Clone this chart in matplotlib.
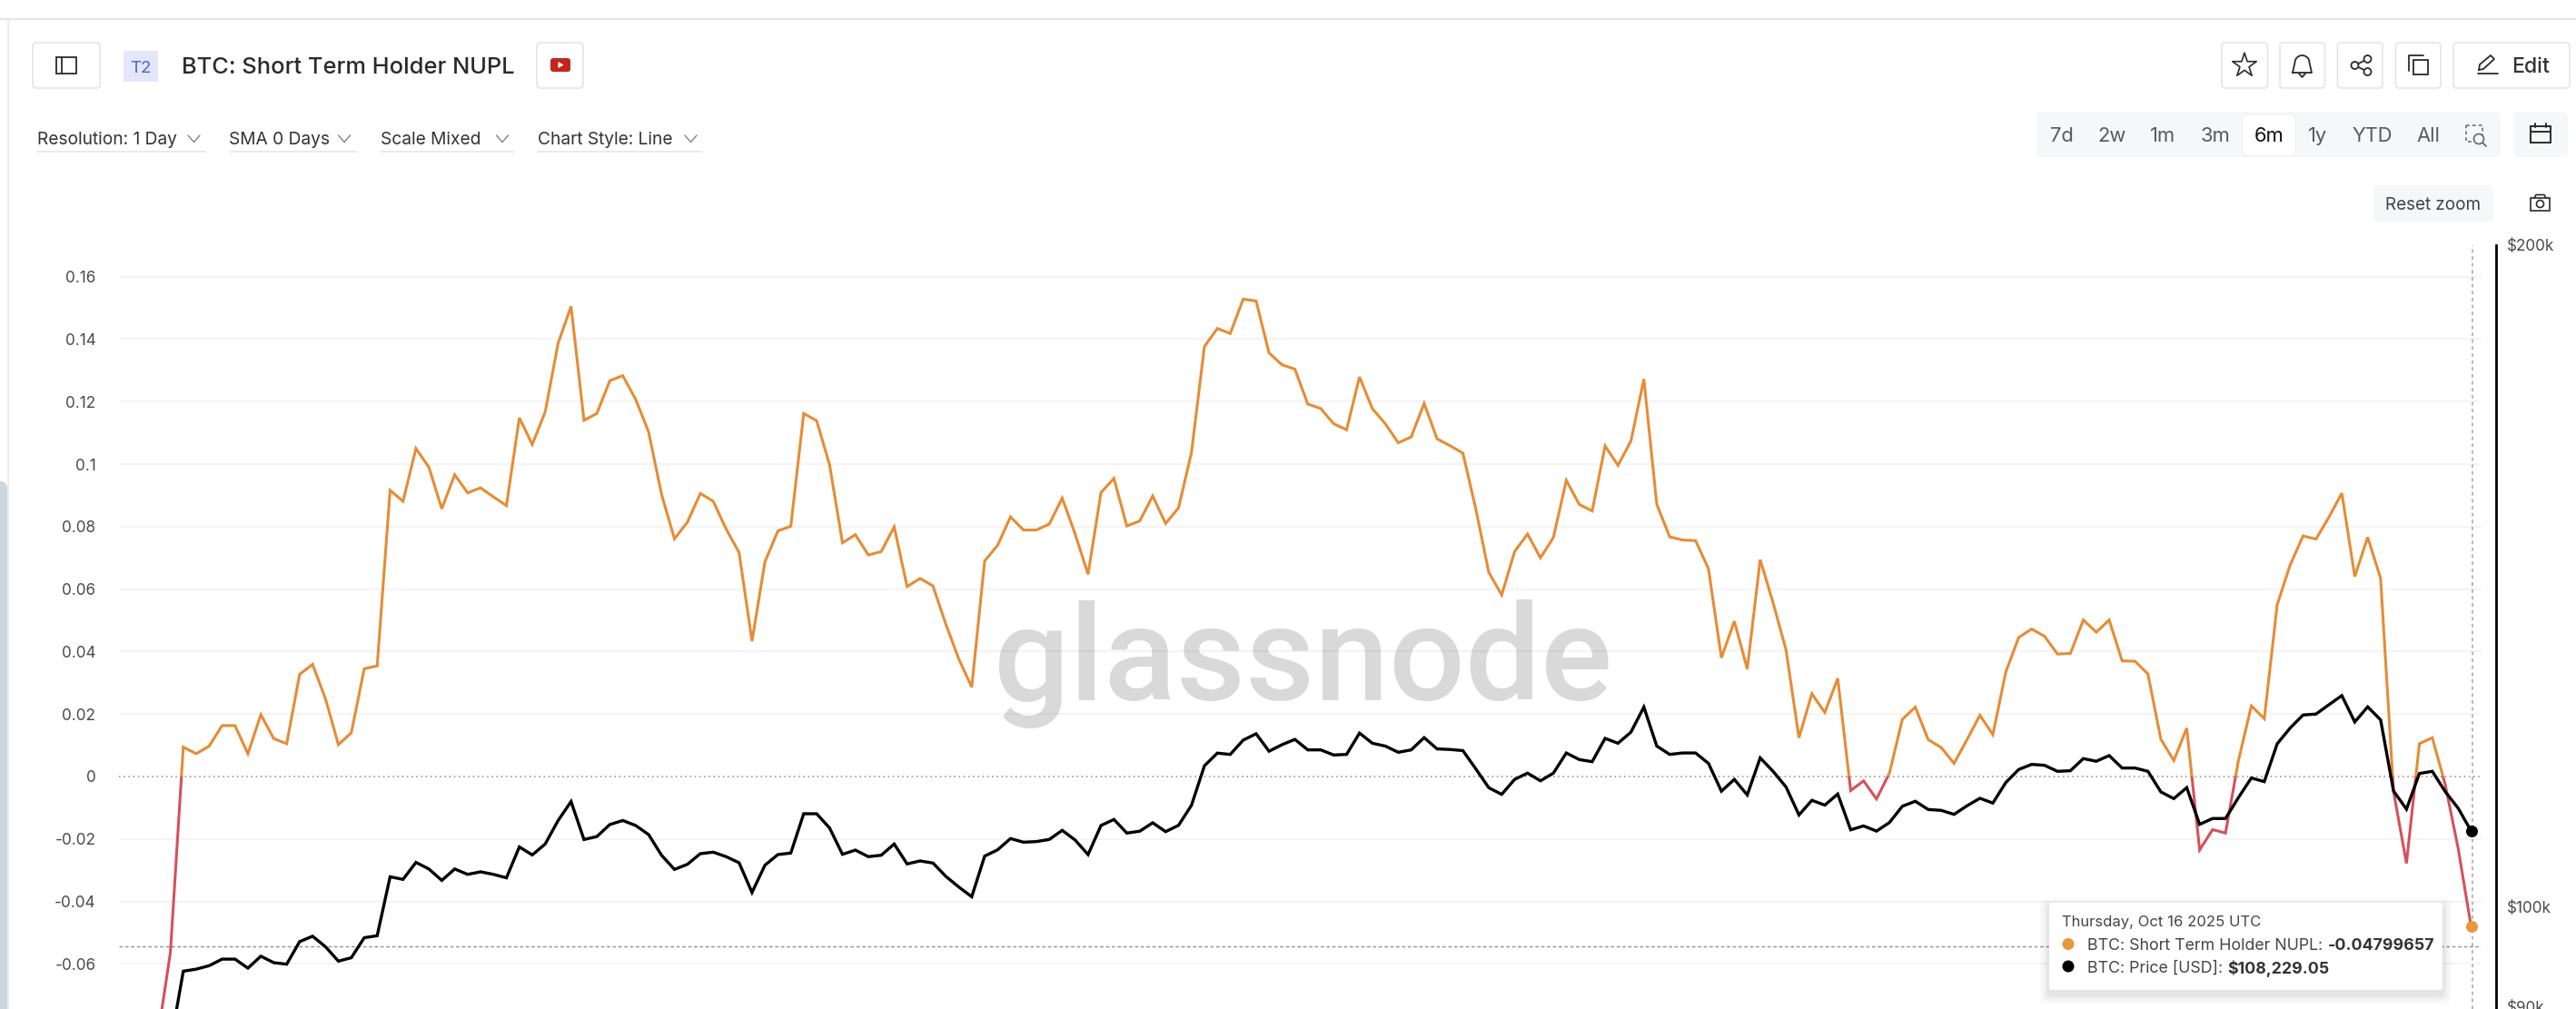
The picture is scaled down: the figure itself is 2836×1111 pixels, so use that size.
import numpy as np
import pandas as pd
import matplotlib
matplotlib.use("Agg")
import matplotlib.pyplot as plt
import matplotlib.dates as mdates
from matplotlib.patches import FancyBboxPatch, Rectangle, Circle, Polygon
from matplotlib.lines import Line2D

plt.rcParams['font.family'] = ['Inter', 'DejaVu Sans']

W, H = 2836, 1111

nupl = [
 -0.084, -0.0564,
 .0094, .0073, .0097, .0163, .0163, .0073, .0198, .0121, .0105, .0327,
 .0359, .0249, .0102, .0140, .0345, .0354, .0916, .0881, .1050, .0990,
 .0857, .0966, .0908, .0924, .0895, .0867, .1148, .1063, .1167, .1387,
 .1505, .1140, .1162, .1267, .1283, .1207, .1103, .0903, .0761, .0814,
 .0906, .0881, .0792, .0717, .0433, .0687, .0786, .0801, .1162, .1139,
 .0998, .0748, .0774, .0709, .0720, .0799, .0608, .0634, .0610, .0487,
 .0376, .0286, .0690, .0740, .0831, .0789, .0789, .0808, .0891, .0776,
 .0647, .0909, .0954, .0802, .0818, .0898, .0810, .0860, .1037, .1376,
 .1434, .1418, .1528, .1522, .1356, .1318, .1304, .1192, .1178, .1129,
 .1110, .1279, .1177, .1129, .1068, .1087, .1194, .1081, .1059, .1035,
 .0856, .0654, .0581, .0720, .0776, .0700, .0765, .0948, .0871, .0850,
 .1058, .0996, .1074, .1272, .0871, .0767, .0757, .0755, .0665, .0380,
 .0497, .0344, .0694, .0556, .0405, .0124, .0265, .0205, .0314, -.0045,
 -.0014, -.0072, .0011, .0183, .0222, .0118, .0093, .0042, .0118, .0196,
 .0134, .0334, .0445, .0472, .0449, .0392, .0394, .0501, .0462, .0501,
 .0370, .0369, .0328, .0119, .0051, .0155, -.0235, -.0170, -.0181, .0051,
 .0226, .0185, .0550, .0677, .0770, .0760, .0830, .0907, .0640, .0766,
 .0634, -.0048, -.0278, .0105, .0124, -.0026, -.0230, -.04799657,
]

price_k = [
 84.5, 86.5,
 93.43, 93.63, 93.97, 94.62, 94.62, 93.73, 94.91, 94.27, 94.12, 96.37,
 96.92, 95.86, 94.42, 94.76, 96.77, 96.97, 103.15, 102.87, 104.72, 104.0,
 102.76, 104.0, 103.41, 103.69, 103.41, 103.04, 106.43, 105.54, 106.76, 109.42,
 111.62, 107.26, 107.6, 108.96, 109.42, 108.85, 107.82, 105.51, 103.95, 104.51,
 105.68, 105.85, 105.35, 104.68, 101.47, 104.41, 105.58, 105.75, 110.2, 110.2,
 108.57, 105.61, 106.08, 105.35, 105.51, 106.76, 104.55, 104.88, 104.65, 103.19,
 102.05, 101.02, 105.41, 106.11, 107.37, 106.96, 107.03, 107.27, 108.3, 107.2,
 105.58, 108.85, 109.54, 107.99, 108.2, 109.16, 108.15, 108.87, 111.18, 115.87,
 117.43, 117.27, 119.04, 119.84, 117.66, 118.47, 119.13, 117.83, 117.83, 117.2,
 117.27, 119.92, 118.65, 118.3, 117.53, 117.83, 119.35, 117.95, 117.88, 117.74,
 115.5, 113.25, 112.46, 114.24, 114.99, 114.07, 114.99, 117.45, 116.64, 116.38,
 119.26, 118.65, 120.04, 123.24, 118.3, 117.27, 117.45, 117.45, 116.17, 112.84,
 114.24, 112.39, 116.85, 115.2, 113.33, 110.06, 111.76, 111.2, 112.5, 108.36,
 108.8, 108.21, 109.19, 111.07, 111.65, 110.69, 110.59, 110.13, 111.12, 112.0,
 111.44, 113.86, 115.43, 116.05, 115.94, 115.21, 115.28, 116.76, 116.43, 117.13,
 115.61, 115.61, 115.21, 112.75, 111.96, 113.26, 108.98, 109.65, 109.65, 112.08,
 114.41, 113.97, 118.59, 120.56, 122.22, 122.34, 123.54, 124.73, 121.33, 123.27,
 121.6, 112.86, 110.73, 114.95, 115.21, 112.78, 110.84, 108.22905,
]

left_ticks = [0.16, 0.14, 0.12, 0.10, 0.08, 0.06, 0.04, 0.02, 0, -0.02, -0.04, -0.06]
left_labels = ['0.16', '0.14', '0.12', '0.1', '0.08', '0.06', '0.04', '0.02', '0',
               '-0.02', '-0.04', '-0.06']
right_ticks = [90000, 100000, 200000]
right_labels = ['$90k', '$100k', '$200k']
hover_nupl = -0.0544

dates = pd.date_range(end='2025-10-16', periods=len(nupl), freq='D')
price = np.array(price_k) * 1000
nupl = np.array(nupl)
xd = mdates.date2num(dates)

ORANGE, RED = '#e68c35', '#d6505a'
GRID = '#f3f3f4'
TXT = '#4a4a4a'

fig = plt.figure(figsize=(W / 100, H / 100), dpi=100, facecolor='white')
L, R, T, B = 131, 2732, 270, 1111
ax = fig.add_axes([L / W, 1 - B / H, (R - L) / W, (B - T) / H])
ax.set_facecolor('none')
# x position: last date sits at pixel 2720.5, one day = 14.23 px
ax.set_xlim(xd[-1] - (2720.5 - L) / 14.23, xd[-1] + (R - 2720.5) / 14.23)
ax.set_ylim(-0.07442, 0.17006)
for s in ax.spines.values():
    s.set_visible(False)
ax.xaxis.set_visible(False)
ax.set_yticks(left_ticks, left_labels)
ax.tick_params(axis='y', length=0, pad=18.5, labelsize=12.3, labelcolor=TXT)
for v in left_ticks:
    if v == 0:
        ax.axhline(v, color='#8a8a8a', lw=1.1, ls=(0, (1, 2.4)), zorder=2)
    else:
        ax.axhline(v, color=GRID, lw=1.3, zorder=1)

ax.text(1434 / W, 1 - 770.5 / H, 'glassnode', transform=fig.transFigure, ha='center', va='baseline',
        fontsize=106, family='Roboto', weight=500, color='black', alpha=0.15, zorder=1.5)

ax.axhline(hover_nupl, color='#8f8f8f', lw=1.0, ls=(0, (2.6, 2)), zorder=2)
ax.axvline(xd[-1] + 0.1, color='#a5a5a5', lw=1.1, ls=(0, (2.6, 2.4)), zorder=2)

l1, = ax.plot(xd, nupl, color=ORANGE, lw=2.2, solid_joinstyle='miter', zorder=3)
l2, = ax.plot(xd, nupl, color=RED, lw=2.2, solid_joinstyle='miter', zorder=3)
xa, xb = ax.get_xlim()
l1.set_clip_path(Rectangle((xa, 0), xb - xa, 1, transform=ax.transData))
l2.set_clip_path(Rectangle((xa, -1), xb - xa, 1, transform=ax.transData))
ax.scatter(xd[-1], nupl[-1], s=88, color='#e8973c', zorder=5, clip_on=False, linewidths=0)

ax2 = ax.twinx()
ax2.set_facecolor('none')
ax2.set_yscale('log')
ax2.set_ylim(89800, 200000)
ax2.set_yticks(right_ticks, right_labels)
ax2.minorticks_off()
ax2.yaxis.set_minor_locator(matplotlib.ticker.NullLocator())
ax2.tick_params(axis='y', length=0, pad=8.6, labelsize=12.3, labelcolor=TXT)
for k, s in ax2.spines.items():
    s.set_visible(k == 'right')
ax2.spines['right'].set_position(('outward', 11.5))
ax2.spines['right'].set_linewidth(2.0)
ax2.spines['right'].set_color('black')
ax2.plot(xd, price, color='black', lw=2.4, solid_joinstyle='miter', zorder=4)
ax2.scatter(xd[-1], price[-1], s=88, color='black', zorder=5, clip_on=False, linewidths=0)

# ---- page chrome, pixel coordinates
ov = fig.add_axes([0, 0, 1, 1], zorder=10)
ov.set_xlim(0, W)
ov.set_ylim(H, 0)
ov.axis('off')


def rbox(x0, y0, x1, y1, r=4, fc='white', ec='#e3e3e5', lw=1.1, z=2, **kw):
    p = FancyBboxPatch((x0 + r, y0 + r), x1 - x0 - 2 * r, y1 - y0 - 2 * r,
                       boxstyle=f'round,pad={r},rounding_size={r}', fc=fc, ec=ec, lw=lw, zorder=z, **kw)
    ov.add_patch(p)
    return p


def seg(xs, ys, c='#2b2b2b', lw=1.3, z=4, **kw):
    ov.add_line(Line2D(xs, ys, color=c, lw=lw, zorder=z, solid_capstyle='round', **kw))


def txt(x, y, s, size=12, c='#333333', ha='left', weight='normal', z=5):
    return ov.text(x, y, s, fontsize=size, color=c, ha=ha, va='center_baseline', weight=weight, zorder=z)


seg([0, W], [20.5, 20.5], c='#e6e6e8', lw=1.6)
seg([8.5, 8.5], [21, H], c='#e6e6e8', lw=1.1)
rbox(-10, 530, 8, H + 30, r=8, fc='#cbd6de', ec='none', z=1)

# header left
rbox(36, 47, 110, 97)
ov.add_patch(Rectangle((61.5, 62.5), 22, 18.5, fc='none', ec='#2b2b2b', lw=1.3, zorder=4))
seg([68, 68], [62.5, 81])
ov.add_patch(Rectangle((135.5, 55.5), 38.5, 34.5, fc='#e3e7fb', ec='none', zorder=3))
txt(155, 73, 'T2', 13.5, '#4a62d0', ha='center')
txt(200, 72, 'BTC: Short Term Holder NUPL', 18.3, '#2a2a2a', weight=500)
rbox(591, 47, 642, 97)
rbox(606, 64, 628, 79, r=3, fc='#c4261d', ec='none', z=4)
ov.add_patch(Polygon([[614.5, 68], [614.5, 75], [620.5, 71.5]], fc='white', ec='none', zorder=5))

# dropdowns
drops = [('Resolution: 1 Day', 41, 213.5, 226), ('SMA 0 Days', 252.5, 379, 393),
         ('Scale Mixed', 419, 553, 566), ('Chart Style: Line', 592, 760.5, 773)]
for s, x0, xc, x1 in drops:
    txt(x0, 152, s, 13.8, '#333333')
    seg([xc - 6.5, xc, xc + 6.5], [149, 156.5, 149], c='#777777', lw=0.9)
    seg([x0, x1], [167, 167], c='#e3e3e5', lw=1.1)

# header right
for x0, x1 in [(2446, 2496.5), (2510, 2559.5), (2573.5, 2623), (2637.5, 2687), (2701, 2829)]:
    rbox(x0, 47, x1, 97)
ov.scatter([2471], [72], marker='*', s=400, fc='none', ec='#2b2b2b', lw=1.2, zorder=4)
# bell
bt = np.linspace(np.pi, 0, 20)
bx = list(2534.5 + 8 * np.cos(bt))
by = list(69 + 8 * np.sin(-bt) * 1.0)
seg([2524] + bx + [2545, 2524], [80] + by + [80, 80])
seg([2531, 2534.5, 2538], [81, 85, 81])
# share
for cx, cy in [(2606.5, 65), (2606.5, 79), (2592.5, 72)]:
    ov.add_patch(Circle((cx, cy), 4, fc='white', ec='#2b2b2b', lw=1.3, zorder=5))
seg([2592.5, 2606.5], [72, 65])
seg([2592.5, 2606.5], [72, 79])
# copy
ov.add_patch(Rectangle((2657, 66), 16, 16, fc='white', ec='#2b2b2b', lw=1.3, zorder=5))
seg([2652, 2652, 2668], [78, 61, 61])
# edit
seg([2728, 2750], [81, 81])
seg([2729, 2730, 2742, 2746, 2734, 2729], [77, 71, 61, 65, 76, 77])
txt(2765.5, 72, 'Edit', 16.6, '#333333', weight=500)

# range selector
rbox(2242, 123, 2753, 173, r=6, fc='#f6f7f8', ec='none')
rbox(2469, 126, 2527, 171, r=5, fc='white', ec='#ececec', lw=0.6, z=3)
ranges = [('7d', 2270), ('2w', 2325), ('1m', 2381), ('3m', 2439), ('6m', 2498),
          ('1y', 2551.5), ('YTD', 2611.5), ('All', 2673.5)]
for s, xc in ranges:
    txt(xc, 148, s, 15.8, '#111111' if s == '6m' else '#5a5a5a', ha='center')
ov.add_patch(Rectangle((2714.5, 138), 18, 18, fc='none', ec='#666666', lw=1.1, ls=(0, (2.5, 2)), zorder=4))
ov.add_patch(Circle((2729, 153), 5.5, fc='#f6f7f8', ec='#666666', lw=1.2, zorder=5))
seg([2733, 2737], [157, 161], c='#666666')
rbox(2767, 123, 2827, 173, r=6, fc='#f6f7f8', ec='none')
ov.add_patch(Rectangle((2786, 139), 22, 18, fc='none', ec='#2b2b2b', lw=1.4, zorder=4))
seg([2786, 2808], [144.5, 144.5], lw=1.4)
seg([2791, 2791], [136, 140], lw=1.4)
seg([2803, 2803], [136, 140], lw=1.4)

# reset zoom and camera
rbox(2613, 204, 2745, 244, r=5, fc='#f6f7f8', ec='none')
txt(2679, 224, 'Reset zoom', 13.6, '#444444', ha='center')
ov.add_patch(Rectangle((2786, 218), 21, 14, fc='none', ec='#2b2b2b', lw=1.2, zorder=4))
seg([2790, 2792, 2801, 2803], [218, 214.5, 214.5, 218], lw=1.2)
ov.add_patch(Circle((2796.5, 224.5), 4, fc='none', ec='#2b2b2b', lw=1.2, zorder=4))

# tooltip
for i, a in enumerate([0.018, 0.022, 0.028, 0.035]):
    g = 10 - 2.5 * i
    rbox(2256 - g, 994 - g + 5, 2689 + g, 1090 + g + 5, r=6, fc='black', ec='none', alpha=a, z=2)
rbox(2256, 994, 2689, 1090, r=3, fc='white', ec='none', z=3)
txt(2270, 1014, 'Thursday, Oct 16 2025 UTC', 12.0, '#444444')
ov.add_patch(Circle((2277, 1039.5), 6.5, fc='#e8973c', ec='none', zorder=5))
ov.add_patch(Circle((2277, 1064), 6.5, fc='black', ec='none', zorder=5))
txt(2297.5, 1039.5, 'BTC: Short Term Holder NUPL:', 12.8, '#444444')
txt(2563, 1039.5, '-0.04799657', 12.8, '#333333', weight='bold')
txt(2297.5, 1064, 'BTC: Price [USD]:', 12.8, '#444444')
txt(2452, 1064, '$108,229.05', 12.8, '#333333', weight='bold')

fig.savefig('out.png', dpi=100, facecolor='white')
print(len(nupl), len(price))
